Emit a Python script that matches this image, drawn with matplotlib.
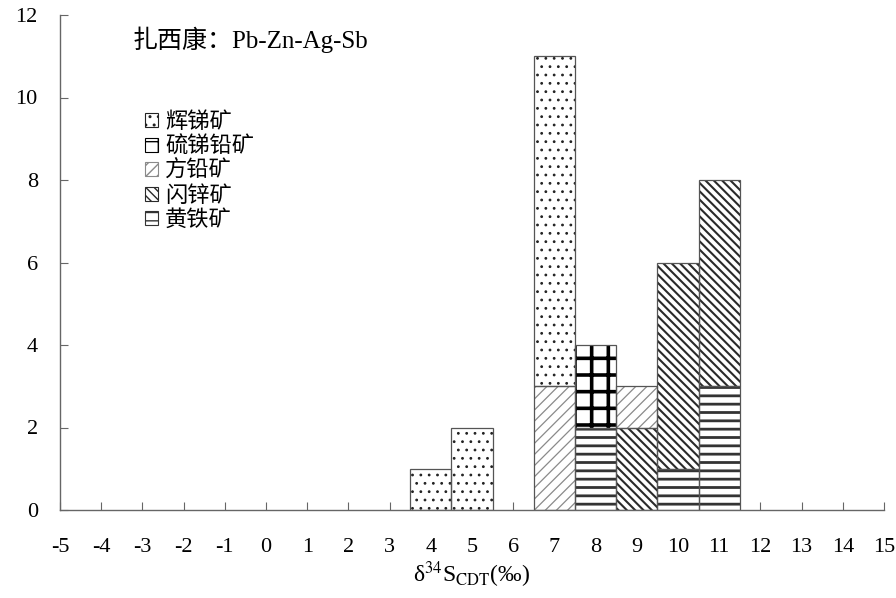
import matplotlib
matplotlib.use("Agg")
import matplotlib.pyplot as plt
from matplotlib.patches import Patch
import numpy as np

# ---- data ----
x_positions = [4, 5, 7, 8, 9, 10, 11]
minerals = ["辉锑矿", "硫锑铅矿", "方铅矿", "闪锌矿", "黄铁矿"]
# counts per mineral at each x position
stibnite    = [1, 2, 8, 0, 0, 0, 0]   # 辉锑矿
boulangerite = [0, 0, 0, 2, 0, 0, 0]  # 硫锑铅矿
galena      = [0, 0, 3, 0, 1, 0, 0]   # 方铅矿
sphalerite  = [0, 0, 0, 0, 2, 5, 5]   # 闪锌矿
pyrite      = [0, 0, 0, 2, 0, 1, 3]   # 黄铁矿
xtick_vals = list(range(-5, 16))
xtick_labels = [str(v) for v in xtick_vals]
ytick_vals = [0, 2, 4, 6, 8, 10, 12]

# stacking order (bottom -> top) per bar follows the picture
stack_order = [("黄铁矿", pyrite), ("闪锌矿", sphalerite), ("方铅矿", galena),
               ("硫锑铅矿", boulangerite), ("辉锑矿", stibnite)]

styles = {
    "辉锑矿":   dict(hatch="..",  color="#222222", hlw=0.8),
    "硫锑铅矿": dict(hatch="+",   color="#000000", hlw=2.6),
    "方铅矿":   dict(hatch="///", color="#8a8a8a", hlw=0.9),
    "闪锌矿":   dict(hatch="\\\\\\\\", color="#2a2a2a", hlw=1.5),
    "黄铁矿":   dict(hatch="--",  color="#333333", hlw=2.0),
}

plt.rcParams["mathtext.fontset"] = "stix"
serif = ["Liberation Serif", "Noto Sans CJK SC", "DejaVu Sans"]
cjk = ["Noto Sans CJK SC", "Liberation Serif", "DejaVu Sans"]

fig = plt.figure(figsize=(8.96, 5.98), dpi=100)
ax = fig.add_axes([60/896, 1-510/598, 824/896, 495/598])

bottom = np.zeros(len(x_positions))
for name, vals in stack_order:
    st = styles[name]
    vals = np.array(vals, dtype=float)
    mask = vals > 0
    xs = np.array(x_positions)[mask]
    bars = ax.bar(xs, vals[mask], width=1.0, bottom=bottom[mask],
                  color="white", edgecolor=st["color"], hatch=st["hatch"],
                  linewidth=0, zorder=2)
    for b in bars:
        if hasattr(b, "set_hatch_linewidth"):
            b.set_hatch_linewidth(st["hlw"])
    ax.bar(xs, vals[mask], width=1.0, bottom=bottom[mask], fill=False,
           edgecolor="#555555", linewidth=0.9, zorder=3)
    bottom += vals

ax.set_xlim(-5, 15)
ax.set_ylim(0, 12)
ax.spines["top"].set_visible(False)
ax.spines["right"].set_visible(False)
for s in ("left", "bottom"):
    ax.spines[s].set_color("#666666")
    ax.spines[s].set_linewidth(1.0)
ax.spines["bottom"].set_zorder(4)

ax.set_xticks(xtick_vals)
ax.set_xticklabels(xtick_labels, fontfamily=serif, fontsize=16)
ax.set_yticks(ytick_vals)
ax.set_yticklabels([str(v) for v in ytick_vals], fontfamily=serif, fontsize=16)
ax.tick_params(axis="x", direction="in", length=6, width=0.8, color="#666666", pad=20)
ax.tick_params(axis="y", direction="in", length=6, width=0.8, color="#666666", pad=16)

ax.set_xlabel("δ$^{34}$S$_{\\mathrm{CDT}}$(‰)", fontfamily=serif,
              fontsize=17, labelpad=2)

fig.text(133/896, 1-40/598, "扎西康：Pb-Zn-Ag-Sb", fontfamily=serif,
         fontsize=18, va="center", ha="left")

handles = []
for name in minerals:
    st = styles[name]
    p = Patch(facecolor="white", edgecolor=st["color"], hatch=st["hatch"], linewidth=0.8)
    if hasattr(p, "set_hatch_linewidth"):
        p.set_hatch_linewidth(st["hlw"])
    handles.append(p)
leg = ax.legend(handles, minerals, loc="upper left",
                bbox_to_anchor=((145-60)/824, (510-110)/495), bbox_transform=ax.transAxes,
                frameon=False, prop={"family": cjk, "size": 16},
                handlelength=0.6, handleheight=0.6, handletextpad=0.3,
                labelspacing=0.07, borderaxespad=0, borderpad=0)
leg.set_zorder(5)

fig.savefig("out.png", dpi=100)
